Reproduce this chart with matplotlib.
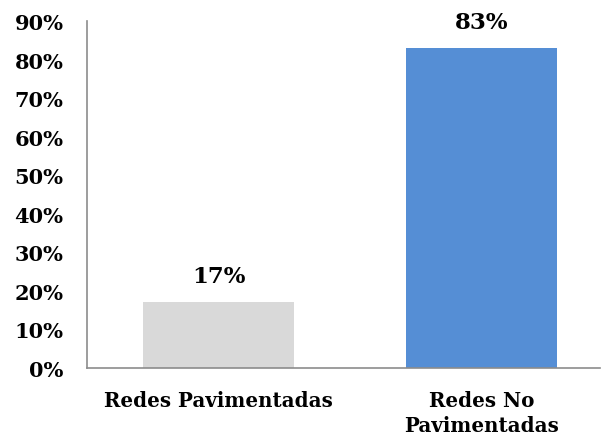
import matplotlib
matplotlib.use('Agg')
import matplotlib.pyplot as plt
from matplotlib.ticker import PercentFormatter

categories = ['Redes Pavimentadas', 'Redes No\nPavimentadas']
values = [17, 83]
bar_colors = ['#D9D9D9', '#558ED5']
yticks = list(range(0, 91, 10))

plt.rcParams['font.family'] = ['DejaVu Serif']
plt.rcParams['font.weight'] = 'bold'

fig = plt.figure(figsize=(6.02, 4.39), dpi=100)
ax = fig.add_axes([0.1445, 0.1595, 0.8522, 0.7904])

x = list(range(len(categories)))
bars = ax.bar(x, values, width=0.574, color=bar_colors)

# data labels above bars
for rect, v in zip(bars, values):
    ax.annotate(f'{v}%', (rect.get_x() + rect.get_width() / 2, rect.get_height()),
                xytext=(0, 11), textcoords='offset points',
                ha='center', va='bottom', fontsize=16.5, fontweight='bold')

ax.set_xlim(-0.5, 1.45)
ax.set_ylim(0, 90)
ax.set_yticks(yticks)
ax.yaxis.set_major_formatter(PercentFormatter(decimals=0))
ax.set_xticks(x)
ax.set_xticklabels(categories, linespacing=1.3)

ax.tick_params(axis='y', length=0, pad=17, labelsize=15)
ax.tick_params(axis='x', length=0, pad=16, labelsize=14.3)

for side in ['top', 'right']:
    ax.spines[side].set_visible(False)
for side in ['left', 'bottom']:
    ax.spines[side].set_color('#8C8C8C')
    ax.spines[side].set_linewidth(1.2)

fig.savefig('out.png', dpi=100)
